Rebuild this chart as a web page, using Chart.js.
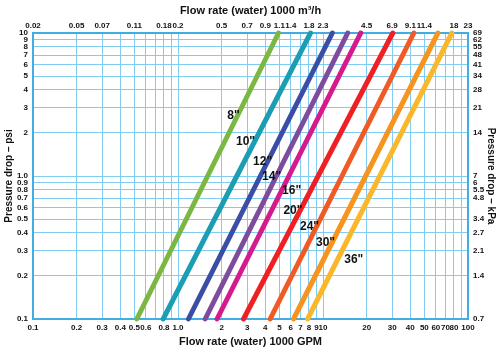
<!DOCTYPE html>
<html>
<head>
<meta charset="utf-8">
<script src="https://cdn.jsdelivr.net/npm/chart.js@4"></script>
<style>
  body { margin: 0; background: #fff; }
  #wrap { width: 500px; height: 354px; position: relative; }
</style>
</head>
<body>
<div id="wrap"><canvas id="chart"></canvas></div>
<script>
// pipe sizes and where each line crosses 0.1 psi and 10 psi (flow in 1000 GPM)
const pipeSizes = ['8"', '10"', '12"', '14"', '16"', '20"', '24"', '30"', '36"'];
const flowAtLow = [0.52, 0.79, 1.18, 1.54, 1.86, 2.83, 4.32, 6.26, 7.83];
const flowAtHigh = [4.93, 8.2, 11.6, 14.8, 18.2, 30.3, 42.3, 62, 77.4];
const pressureLow = 0.1;
const pressureHigh = 10;
const lineColors = ['#7bb843', '#1b9db3', '#3b4ea6', '#7d4c9f', '#d41a8c', '#ee2024', '#f05a24', '#f7941e', '#fbb72c'];

// label anchor points (flow, psi)
const labelFlow = [2.41, 2.92, 3.83, 4.42, 6.07, 6.2, 8.07, 10.4, 16.3];
const labelPsi = [2.64, 1.74, 1.26, 0.99, 0.79, 0.575, 0.445, 0.339, 0.258];

// bottom axis (GPM)
const gpmGrid = [0.1, 0.2, 0.3, 0.4, 0.5, 0.6, 0.7, 0.8, 0.9, 1, 2, 3, 4, 5, 6, 7, 8, 9, 10, 20, 30, 40, 50, 60, 70, 80, 90, 100];
const gpmLabels = ['0.1', '0.2', '0.3', '0.4', '0.5', '0.6', '', '0.8', '', '1.0', '2', '3', '4', '5', '6', '7', '8', '9', '10', '20', '30', '40', '50', '60', '70', '80', '', '100'];

// top axis (m3/h) placed at GPM positions
const m3hAt = [0.1, 0.2, 0.3, 0.5, 0.8, 1, 2, 3, 4, 5, 6, 8, 10, 20, 30, 40, 50, 80, 100];
const m3hLabels = ['0.02', '0.05', '0.07', '0.11', '0.18', '0.2', '0.5', '0.7', '0.9', '1.1', '1.4', '1.8', '2.3', '4.5', '6.9', '9.1', '11.4', '18', '23'];

// left axis (psi)
const psiGrid = [0.1, 0.2, 0.3, 0.4, 0.5, 0.6, 0.7, 0.8, 0.9, 1, 2, 3, 4, 5, 6, 7, 8, 9, 10];
const psiLabels = ['0.1', '0.2', '0.3', '0.4', '0.5', '0.6', '0.7', '0.8', '0.9', '1.0', '2', '3', '4', '5', '6', '7', '8', '9', '10'];

// right axis (kPa) placed at psi positions
const kpaAt = [0.1, 0.2, 0.3, 0.4, 0.5, 0.7, 0.8, 0.9, 1, 2, 3, 4, 5, 6, 7, 8, 9, 10];
const kpaLabels = ['0.7', '1.4', '2.1', '2.7', '3.4', '4.8', '5.5', '6', '7', '14', '21', '28', '34', '41', '48', '55', '62', '69'];

const gridColor = '#80cdf1';
const borderColor = '#42ade3';
const fontName = "'Liberation Sans', Arial, sans-serif";
const tickFont = { family: fontName, size: 8, weight: 'bold' };
const titleFont = { family: fontName, size: 11, weight: 'bold' };
const sideTitleFont = { family: fontName, size: 10, weight: 'bold' };

const datasets = pipeSizes.map((size, i) => ({
    label: size,
    data: [{ x: flowAtLow[i], y: pressureLow }, { x: flowAtHigh[i], y: pressureHigh }],
    borderColor: lineColors[i],
    borderWidth: 5,
    borderCapStyle: 'round',
    pointRadius: 0,
    xAxisID: 'x',
    yAxisID: 'y',
    clip: 3
}));

function fixedTicks(values) {
    return (scale) => { scale.ticks = values.map(v => ({ value: v })); };
}

const pipeLabelPlugin = {
    id: 'pipeLabels',
    afterDatasetsDraw(chart) {
        const ctx = chart.ctx;
        const xs = chart.scales.x;
        const ys = chart.scales.y;
        ctx.save();
        ctx.font = 'bold 12px ' + fontName;
        ctx.textAlign = 'center';
        ctx.textBaseline = 'middle';
        ctx.fillStyle = '#111';
        pipeSizes.forEach((size, i) => {
            ctx.fillText(size, xs.getPixelForValue(labelFlow[i]), ys.getPixelForValue(labelPsi[i]));
        });
        ctx.restore();
    }
};

new Chart(document.getElementById('chart'), {
    type: 'line',
    data: { datasets: datasets },
    options: {
        responsive: true,
        maintainAspectRatio: false,
        animation: false,
        layout: { padding: 0 },
        plugins: { legend: { display: false }, tooltip: { enabled: false } },
        scales: {
            x: {
                type: 'logarithmic', position: 'bottom', min: 0.1, max: 100,
                afterBuildTicks: fixedTicks(gpmGrid),
                afterFit: (s) => { s.height = 35; },
                ticks: { autoSkip: false, maxRotation: 0, padding: 4, color: '#111', font: tickFont,
                    callback: (v, i) => gpmLabels[i] },
                grid: { color: gridColor, lineWidth: 1, drawTicks: false },
                border: { color: borderColor, width: 2 },
                title: { display: true, text: 'Flow rate (water) 1000 GPM', color: '#111', font: titleFont, padding: { top: 0, bottom: 5 } }
            },
            x2: {
                type: 'logarithmic', position: 'top', min: 0.1, max: 100,
                afterBuildTicks: fixedTicks(m3hAt),
                afterFit: (s) => { s.height = 33; },
                ticks: { autoSkip: false, maxRotation: 0, padding: 2, color: '#111', font: tickFont,
                    callback: (v, i) => m3hLabels[i] },
                grid: { display: false, drawTicks: false },
                border: { color: borderColor, width: 2 },
                title: { display: true, text: 'Flow rate (water) 1000 m³/h', color: '#111', font: titleFont, padding: { top: 4, bottom: 0 } }
            },
            y: {
                type: 'logarithmic', position: 'left', min: 0.1, max: 10,
                afterBuildTicks: fixedTicks(psiGrid),
                afterFit: (s) => { s.width = 33; },
                ticks: { autoSkip: false, padding: 5, color: '#111', font: tickFont,
                    callback: (v, i) => psiLabels[i] },
                grid: { color: gridColor, lineWidth: 1, drawTicks: false },
                border: { color: borderColor, width: 2 },
                title: { display: true, text: 'Pressure drop – psi', color: '#111', font: sideTitleFont, padding: { top: 3, bottom: 0 } }
            },
            y2: {
                type: 'logarithmic', position: 'right', min: 0.1, max: 10,
                afterBuildTicks: fixedTicks(kpaAt),
                afterFit: (s) => { s.width = 32; },
                ticks: { autoSkip: false, padding: 5, color: '#111', font: tickFont,
                    callback: (v, i) => kpaLabels[i] },
                grid: { display: false, drawTicks: false },
                border: { color: borderColor, width: 2 },
                title: { display: true, text: 'Pressure drop – kPa', color: '#111', font: sideTitleFont, padding: { top: 3, bottom: 0 } }
            }
        }
    },
    plugins: [pipeLabelPlugin]
});
</script>
</body>
</html>
